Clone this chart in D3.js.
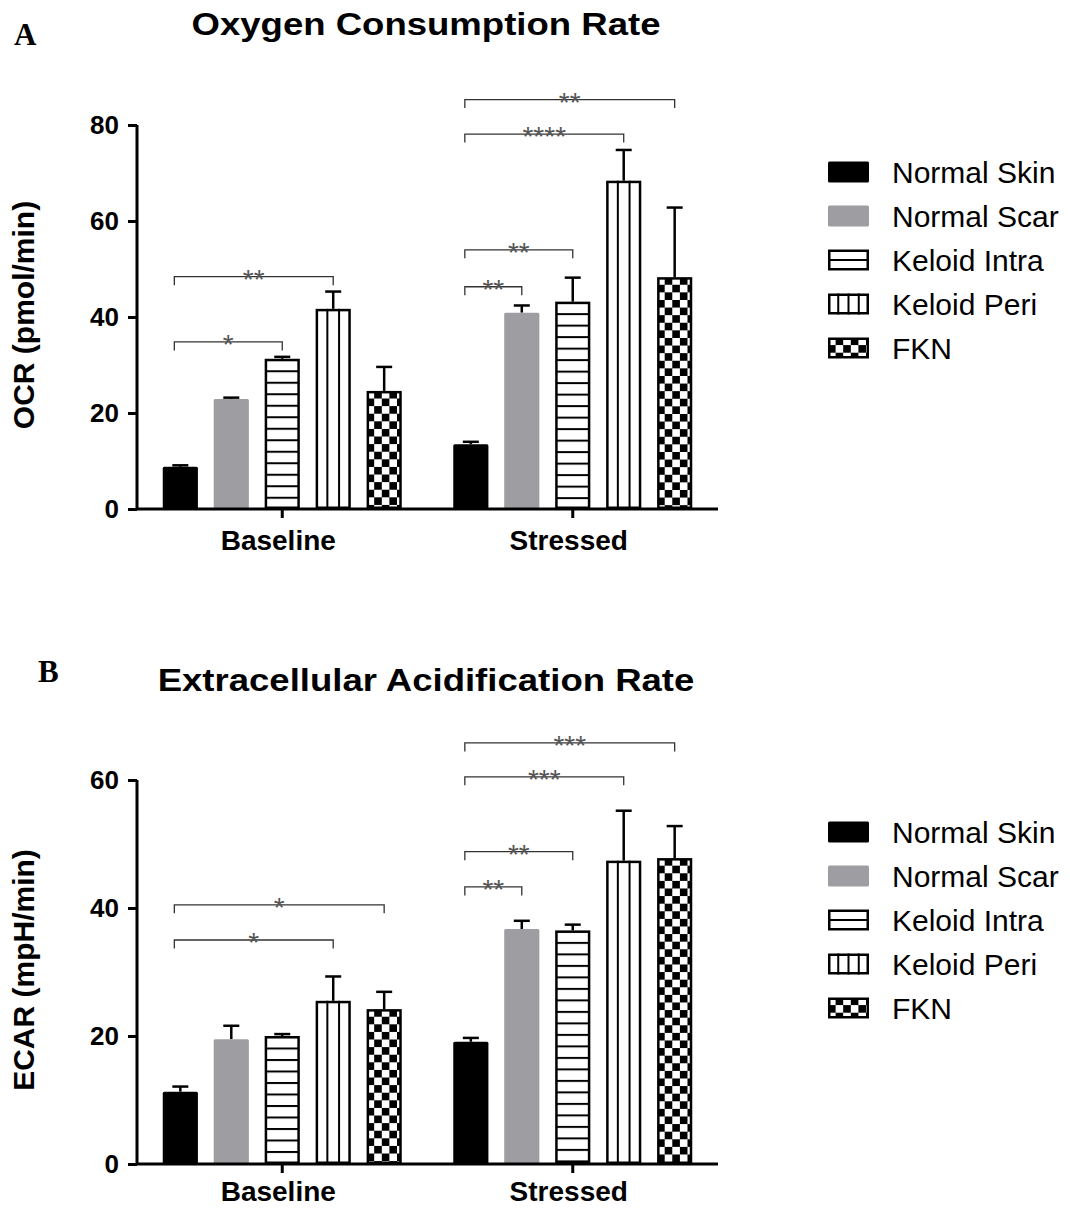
<!DOCTYPE html>
<html>
<head>
<meta charset="utf-8">
<script src="https://cdn.jsdelivr.net/npm/d3@7"></script>
<style>
  body { margin: 0; background: #fff; }
  text { font-family: "Liberation Sans", Arial, sans-serif; }
</style>
</head>
<body>
<div id="chart"></div>
<script>
{
// categories
const groups = ["Baseline", "Stressed"];
const series = ["Normal Skin", "Normal Scar", "Keloid Intra", "Keloid Peri", "FKN"];

// OCR (pmol/min): mean and SEM per group, per series
const ocrMean = [[8.8, 22.9, 31.3, 41.7, 24.6], [13.5, 40.9, 43.2, 68.4, 48.3]];
const ocrErr  = [[0.3, 0.3, 0.4, 3.6, 5.0], [0.5, 1.5, 5.0, 6.4, 14.5]];
const ocrTicks = [0, 20, 40, 60, 80];

// ECAR (mpH/min)
const ecarMean = [[11.3, 19.5, 20.0, 25.5, 24.2], [19.1, 36.7, 36.5, 47.4, 47.8]];
const ecarErr  = [[0.8, 2.1, 0.3, 3.8, 2.7], [0.6, 1.3, 0.9, 7.8, 5.0]];
const ecarTicks = [0, 20, 40, 60];

// significance brackets: group, from bar, to bar, bracket level (data units), label
const ocrSig = [
  {g: 0, a: 0, b: 2, y: 34.8, label: "*"},
  {g: 0, a: 0, b: 3, y: 48.4, label: "**"},
  {g: 1, a: 0, b: 1, y: 46.3, label: "**"},
  {g: 1, a: 0, b: 2, y: 54.0, label: "**"},
  {g: 1, a: 0, b: 3, y: 78.1, label: "****"},
  {g: 1, a: 0, b: 4, y: 85.3, label: "**"}
];
const ecarSig = [
  {g: 0, a: 0, b: 3, y: 35.0, label: "*"},
  {g: 0, a: 0, b: 4, y: 40.5, label: "*"},
  {g: 1, a: 0, b: 1, y: 43.3, label: "**"},
  {g: 1, a: 0, b: 2, y: 48.8, label: "**"},
  {g: 1, a: 0, b: 3, y: 60.5, label: "***"},
  {g: 1, a: 0, b: 4, y: 65.8, label: "***"}
];

const W = 1070, H = 1209;
const svg = d3.select("#chart").append("svg")
    .attr("width", W).attr("height", H);
const defs = svg.append("defs");

const gray = "#9e9ea2";
const cell = 7.6;   // checker cell
const hGap = 11.5;  // horizontal stripe spacing

// patterns (userSpaceOnUse, so every bar/swatch gets drawn at its own origin)
const ph = defs.append("pattern").attr("id", "hstripe")
    .attr("patternUnits", "userSpaceOnUse").attr("width", 10).attr("height", hGap);
ph.append("rect").attr("width", 10).attr("height", hGap).attr("fill", "#fff");
ph.append("rect").attr("y", 0).attr("width", 10).attr("height", 2).attr("fill", "#000");

const pc = defs.append("pattern").attr("id", "checker")
    .attr("patternUnits", "userSpaceOnUse").attr("width", cell * 2).attr("height", cell * 2);
pc.append("rect").attr("width", cell * 2).attr("height", cell * 2).attr("fill", "#fff");
pc.append("rect").attr("x", cell).attr("y", 0).attr("width", cell).attr("height", cell).attr("fill", "#000");
pc.append("rect").attr("x", 0).attr("y", cell).attr("width", cell).attr("height", cell).attr("fill", "#000");

// draw one bar (or swatch) of series i in a g placed at its top-left
function drawMark(g, i, w, h, legend) {
  const sw = 2.5;
  if (i === 0) {
    g.append("rect").attr("width", w).attr("height", h).attr("fill", "#000").attr("rx", 1.5);
  } else if (i === 1) {
    g.append("rect").attr("width", w).attr("height", h).attr("fill", gray).attr("rx", 1.5);
  } else if (i === 2) {
    g.append("rect").attr("x", sw / 2).attr("y", sw / 2)
      .attr("width", w - sw).attr("height", Math.max(0, h - sw))
      .attr("fill", legend ? "#fff" : "url(#hstripe)")
      .attr("stroke", "#000").attr("stroke-width", sw);
    if (legend) g.append("line").attr("x1", 0).attr("x2", w).attr("y1", h / 2).attr("y2", h / 2)
      .attr("stroke", "#000").attr("stroke-width", 2);
  } else if (i === 3) {
    g.append("rect").attr("x", sw / 2).attr("y", sw / 2)
      .attr("width", w - sw).attr("height", Math.max(0, h - sw))
      .attr("fill", "#fff").attr("stroke", "#000").attr("stroke-width", sw);
    const n = legend ? 4 : 3;
    d3.range(1, n).forEach(k => {
      g.append("line").attr("x1", w * k / n).attr("x2", w * k / n)
        .attr("y1", 0).attr("y2", h).attr("stroke", "#000").attr("stroke-width", 2);
    });
  } else {
    g.append("rect").attr("x", sw / 2).attr("y", sw / 2)
      .attr("width", w - sw).attr("height", Math.max(0, h - sw))
      .attr("fill", "url(#checker)").attr("stroke", "#000").attr("stroke-width", sw);
  }
}

function drawPanel(o) {
  const y = d3.scaleLinear().domain([0, o.ticks[o.ticks.length - 1]])
      .range([o.y0, o.yTop]);
  const x0 = d3.scaleBand().domain(groups).range([137, 718]);
  const x1 = d3.scaleBand().domain(series)
      .range([-119.5, 119.5]).paddingInner(0.31);
  const cx = g => x0(groups[g]) + x0.bandwidth() / 2;
  const barX = (g, i) => cx(g) + x1(series[i]);
  const bw = x1.bandwidth();

  const p = svg.append("g");

  // panel letter + title (title glyphs are wide in the source, so stretch x)
  p.append("text").attr("x", o.letterX).attr("y", o.letterY)
    .style("font-family", "'Liberation Serif', 'Times New Roman', serif")
    .style("font-weight", "bold").style("font-size", "31px").text(o.letter);
  p.append("text").attr("transform", `translate(426,${o.titleY}) scale(1.16,1)`)
    .attr("text-anchor", "middle")
    .style("font-weight", "bold").style("font-size", "31.5px").text(o.title);

  // bars
  groups.forEach((gName, gi) => {
    series.forEach((s, si) => {
      const v = o.mean[gi][si], e = o.err[gi][si];
      const bx = barX(gi, si);
      // error bar (upper only)
      const ex = bx + bw / 2;
      p.append("line").attr("x1", ex).attr("x2", ex)
        .attr("y1", y(v)).attr("y2", y(v + e))
        .attr("stroke", "#000").attr("stroke-width", 2.5);
      p.append("line").attr("x1", ex - 8).attr("x2", ex + 8)
        .attr("y1", y(v + e)).attr("y2", y(v + e))
        .attr("stroke", "#000").attr("stroke-width", 2.5);
      const g = p.append("g").attr("transform", `translate(${bx},${y(v)})`);
      drawMark(g, si, bw, y(0) - y(v), false);
    });
  });

  // significance brackets
  o.sig.forEach(d => {
    const xa = barX(d.g, d.a) + bw / 2 - 6;
    const xb = barX(d.g, d.b) + bw / 2;
    const yy = y(d.y);
    p.append("path")
      .attr("d", `M${xa},${yy + 8.5}V${yy}H${xb}V${yy + 8.5}`)
      .attr("fill", "none").attr("stroke", "#333").attr("stroke-width", 1.3);
    p.append("text").attr("x", (xa + xb) / 2).attr("y", yy + 12)
      .attr("text-anchor", "middle").attr("fill", "#555")
      .style("font-size", "28px").text(d.label);
  });

  // y axis
  const ya = p.append("g").attr("transform", "translate(137,0)")
    .call(d3.axisLeft(y).tickValues(o.ticks).tickSize(9).tickPadding(9).tickFormat(d3.format("d")));
  ya.select(".domain").attr("stroke-width", 3).attr("d", `M0,${o.y0}V${o.yTop}`);
  ya.selectAll(".tick line").attr("stroke-width", 3);
  ya.selectAll(".tick text").style("font-family", "'Liberation Sans', Arial, sans-serif")
    .style("font-weight", "bold").style("font-size", "26px").attr("fill", "#000");

  // x axis
  const xa = p.append("g").attr("transform", `translate(0,${o.y0})`)
    .call(d3.axisBottom(x0).tickSize(9).tickPadding(o.xPad));
  xa.select(".domain").attr("stroke-width", 3).attr("d", "M137,0H718");
  xa.selectAll(".tick line").attr("stroke-width", 3);
  xa.selectAll(".tick text").style("font-family", "'Liberation Sans', Arial, sans-serif")
    .style("font-weight", "bold").style("font-size", "28px").attr("fill", "#000")
    .attr("dx", "-4px");

  // y label
  p.append("text")
    .attr("transform", `translate(34,${o.labelY}) rotate(-90)`)
    .attr("text-anchor", "middle")
    .style("font-weight", "bold").style("font-size", "30px").text(o.yLabel);

  // legend
  const lg = p.append("g");
  series.forEach((s, i) => {
    const ry = o.legendY + i * 44;
    const g = lg.append("g").attr("transform", `translate(828,${ry - 10.5})`);
    drawMark(g, i, 41, 21, true);
    lg.append("text").attr("x", 892).attr("y", ry + 10.5)
      .style("font-size", "30px").text(s);
  });
}

drawPanel({
  letter: "A", letterX: 14, letterY: 45,
  title: "Oxygen Consumption Rate", titleY: 35,
  mean: ocrMean, err: ocrErr, ticks: ocrTicks, sig: ocrSig,
  y0: 509, yTop: 125, yLabel: "OCR (pmol/min)", labelY: 315,
  legendY: 172, xPad: 12
});

drawPanel({
  letter: "B", letterX: 38, letterY: 682,
  title: "Extracellular Acidification Rate", titleY: 691,
  mean: ecarMean, err: ecarErr, ticks: ecarTicks, sig: ecarSig,
  y0: 1164, yTop: 780, yLabel: "ECAR (mpH/min)", labelY: 970,
  legendY: 832, xPad: 8
});
}
</script>
</body>
</html>
